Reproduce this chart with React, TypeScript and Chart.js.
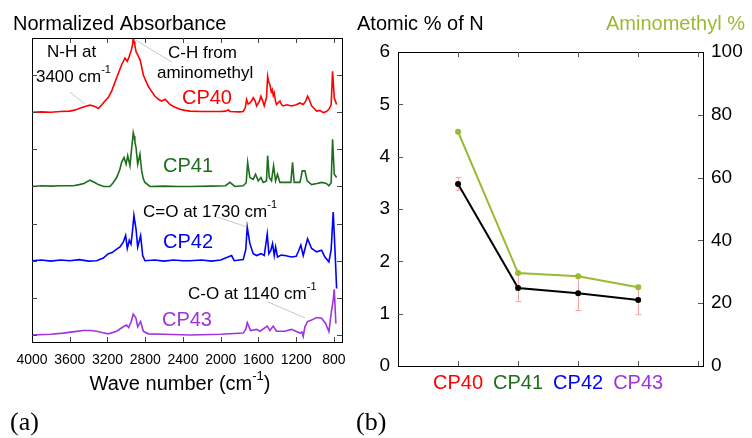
import React, { useEffect, useRef } from 'react';
import { Chart, registerables } from 'chart.js';

Chart.register(...registerables);

const SANS = '"Liberation Sans", Arial, Helvetica, sans-serif';
const SERIF = '"Liberation Serif", "DejaVu Serif", serif';

// ---------- Panel (a): FTIR spectra (offset, normalized) ----------
const cp40Wn = [4000, 3900, 3800, 3700, 3600, 3562, 3520, 3480, 3430, 3386, 3350, 3330, 3297, 3260, 3227, 3190, 3156, 3103, 3050, 3030, 3015, 2990, 2969, 2945, 2935, 2927, 2918, 2910, 2898, 2874, 2856, 2840, 2821, 2795, 2768, 2730, 2697, 2660, 2626, 2605, 2591, 2570, 2538, 2490, 2432, 2380, 2326, 2200, 2100, 2000, 1950, 1920, 1900, 1800, 1762, 1740, 1726, 1710, 1691, 1670, 1656, 1635, 1620, 1590, 1574, 1555, 1539, 1515, 1503, 1490, 1479, 1465, 1454, 1443, 1433, 1420, 1409, 1390, 1373, 1355, 1338, 1300, 1250, 1200, 1161, 1126, 1100, 1080, 1060, 1037, 1010, 984, 950, 914, 880, 854, 830, 815, 805, 797, 772];
const cp40Abs = [6.0, 6.01, 6.0, 6.02, 6.03, 6.05, 6.08, 6.12, 6.16, 6.19, 6.17, 6.15, 6.1, 6.2, 6.3, 6.4, 6.57, 6.93, 7.28, 7.38, 7.46, 7.37, 7.51, 7.7, 7.82, 8.0, 7.9, 7.8, 7.64, 7.51, 7.42, 7.25, 7.01, 6.85, 6.7, 6.55, 6.43, 6.35, 6.3, 6.33, 6.35, 6.3, 6.21, 6.14, 6.08, 6.05, 6.03, 6.02, 6.02, 6.02, 6.03, 6.06, 6.02, 6.01, 6.02, 6.12, 6.34, 6.22, 6.25, 6.32, 6.39, 6.3, 6.17, 6.3, 6.43, 6.3, 6.17, 6.4, 6.97, 6.8, 6.75, 6.55, 6.61, 6.45, 6.52, 6.3, 6.21, 6.26, 6.3, 6.2, 6.17, 6.2, 6.17, 6.2, 6.25, 6.21, 6.3, 6.43, 6.33, 6.17, 6.1, 6.03, 6.05, 5.99, 6.02, 6.08, 6.2, 7.1, 6.7, 6.39, 6.21];

const cp41Wn = [4000, 3900, 3800, 3700, 3562, 3500, 3450, 3386, 3330, 3297, 3240, 3174, 3140, 3103, 3070, 3050, 3025, 3003, 2986, 2962, 2945, 2927, 2918, 2910, 2898, 2880, 2856, 2838, 2820, 2803, 2750, 2600, 2450, 2326, 2100, 1950, 1903, 1850, 1762, 1730, 1715, 1691, 1656, 1631, 1603, 1574, 1550, 1515, 1503, 1486, 1462, 1440, 1419, 1398, 1373, 1320, 1257, 1239, 1222, 1161, 1145, 1137, 1108, 1084, 1037, 980, 931, 880, 854, 830, 815, 797, 772];
const cp41Abs = [4.0, 4.02, 4.01, 4.02, 4.02, 4.05, 4.08, 4.17, 4.1, 4.05, 4.0, 4.0, 4.1, 4.24, 4.45, 4.65, 4.78, 4.6, 4.83, 4.56, 5.0, 5.45, 5.35, 5.2, 5.05, 4.6, 4.87, 4.42, 4.2, 4.11, 4.0, 4.01, 4.0, 4.0, 4.01, 4.02, 4.11, 4.0, 4.02, 4.1, 4.65, 4.24, 4.19, 4.33, 4.15, 4.24, 4.11, 4.15, 4.83, 4.24, 4.15, 4.56, 4.15, 4.33, 4.11, 4.11, 4.11, 4.65, 4.11, 4.11, 4.3, 4.42, 4.42, 4.15, 4.05, 4.08, 4.11, 4.08, 4.02, 4.1, 5.27, 4.33, 4.24];

const cp42Wn = [4000, 3900, 3800, 3700, 3600, 3500, 3400, 3315, 3244, 3191, 3150, 3121, 3068, 3033, 3008, 2990, 2969, 2951, 2935, 2920, 2910, 2898, 2880, 2849, 2827, 2803, 2700, 2600, 2500, 2400, 2326, 2200, 2100, 2000, 1885, 1857, 1800, 1762, 1735, 1719, 1691, 1656, 1620, 1574, 1539, 1507, 1490, 1469, 1451, 1433, 1419, 1398, 1360, 1320, 1250, 1200, 1179, 1151, 1126, 1080, 1037, 984, 931, 896, 854, 830, 808, 790, 772];
const cp42Abs = [2.0, 2.02, 1.99, 2.02, 2.0, 2.03, 1.99, 2.0, 2.07, 2.19, 2.22, 2.28, 2.37, 2.5, 2.68, 2.33, 2.55, 2.45, 2.8, 3.22, 3.05, 2.86, 2.37, 2.68, 2.14, 2.0, 2.02, 1.99, 2.02, 2.0, 2.0, 2.02, 1.99, 2.02, 2.14, 2.0, 2.02, 2.03, 2.3, 2.9, 2.46, 2.19, 2.14, 2.19, 2.14, 2.72, 2.19, 2.28, 2.46, 2.14, 2.37, 2.1, 2.15, 2.14, 2.1, 2.12, 2.24, 2.42, 2.14, 2.59, 2.33, 2.24, 2.28, 2.1, 1.97, 2.3, 3.31, 2.33, 1.25];

const cp43Wn = [4000, 3800, 3668, 3550, 3456, 3380, 3315, 3250, 3191, 3103, 3033, 2997, 2976, 2950, 2927, 2910, 2898, 2880, 2849, 2821, 2768, 2600, 2326, 2000, 1762, 1735, 1719, 1684, 1620, 1585, 1507, 1479, 1444, 1409, 1320, 1250, 1161, 1140, 1126, 1108, 1080, 1037, 984, 931, 889, 854, 825, 808, 797, 780];
const cp43Abs = [0.0, 0.02, 0.05, 0.09, 0.12, 0.12, 0.1, 0.06, 0.03, 0.1, 0.22, 0.27, 0.2, 0.35, 0.56, 0.5, 0.45, 0.22, 0.36, 0.1, 0.03, 0.02, 0.0, 0.02, 0.05, 0.15, 0.33, 0.12, 0.15, 0.1, 0.24, 0.12, 0.24, 0.1, 0.1, 0.15, 0.05, 0.08, -0.04, 0.22, 0.36, 0.4, 0.47, 0.45, 0.31, 0.09, 0.67, 0.94, 1.23, 0.31];

const spectrumNames = ['CP40', 'CP41', 'CP42', 'CP43'];
const sampleColors = ['#ff0000', '#1e6e1e', '#0000ff', '#a034dc'];
const waveTicks = [4000, 3600, 3200, 2800, 2400, 2000, 1600, 1200, 800];
const offsetTicks = [0, 1, 2, 3, 4, 5, 6, 7];

// ---------- Panel (b): composition ----------
const samples = ['CP40', 'CP41', 'CP42', 'CP43'];
const samplePos = [1, 2, 3, 4];
const atomicN = [3.48, 1.49, 1.39, 1.26];
const atomicNErr = [0.12, 0.26, 0.33, 0.28];
const aminomethylPct = [74.6, 29.6, 28.6, 25.1];
const leftTicks = [0, 1, 2, 3, 4, 5, 6];
const rightTicks = [0, 20, 40, 60, 80, 100];
const categoryTicks = [1, 2, 3, 4, 5];

const W = 752;
const H = 438;

function supText(ctx: CanvasRenderingContext2D, x: number, y: number, parts: [string, boolean][], size: number, align: 'left' | 'center') {
  const supSize = Math.round(size * 0.65);
  let total = 0;
  for (const [t, sup] of parts) {
    ctx.font = `${sup ? supSize : size}px ${SANS}`;
    total += ctx.measureText(t).width;
  }
  let cx = align === 'center' ? x - total / 2 : x;
  ctx.textAlign = 'left';
  ctx.textBaseline = 'middle';
  for (const [t, sup] of parts) {
    ctx.font = `${sup ? supSize : size}px ${SANS}`;
    ctx.fillText(t, cx, sup ? y - size * 0.4 : y);
    cx += ctx.measureText(t).width;
  }
}

const spectraPlugin = {
  id: 'spectraDecor',
  afterDraw(chart: any) {
    const ctx: CanvasRenderingContext2D = chart.ctx;
    const { left, right, top, bottom } = chart.chartArea;
    const xs = chart.scales.x;
    const ys = chart.scales.y;
    ctx.save();
    ctx.strokeStyle = '#b0b0b0';
    ctx.lineWidth = 0.7;
    const leaders = [
      [3597, 6.54, 3439, 6.22],
      [2898, 7.94, 2517, 7.35],
      [2040, 3.18, 1722, 2.91],
      [1500, 0.89, 1108, 0.46],
    ];
    for (const [x1, y1, x2, y2] of leaders) {
      ctx.beginPath();
      ctx.moveTo(xs.getPixelForValue(x1), ys.getPixelForValue(y1));
      ctx.lineTo(xs.getPixelForValue(x2), ys.getPixelForValue(y2));
      ctx.stroke();
    }
    ctx.strokeStyle = '#000';
    ctx.lineWidth = 1;
    ctx.strokeRect(Math.round(left) + 0.5, Math.round(top) + 0.5, Math.round(right - left), Math.round(bottom - top));
    ctx.strokeStyle = '#444';
    ctx.beginPath();
    for (const wn of waveTicks) {
      const px = Math.round(xs.getPixelForValue(wn)) + 0.5;
      if (px - left < 2) continue;
      ctx.moveTo(px, bottom);
      ctx.lineTo(px, bottom - 5);
      ctx.moveTo(px, top);
      ctx.lineTo(px, top + 5);
    }
    for (const v of offsetTicks) {
      const py = Math.round(ys.getPixelForValue(v)) + 0.5;
      ctx.moveTo(left, py);
      ctx.lineTo(left + 5, py);
      ctx.moveTo(right, py);
      ctx.lineTo(right - 5, py);
    }
    ctx.stroke();
    ctx.fillStyle = '#000';
    ctx.font = `14px ${SANS}`;
    ctx.textAlign = 'center';
    ctx.textBaseline = 'middle';
    for (const wn of waveTicks) {
      ctx.fillText(String(wn), xs.getPixelForValue(wn), bottom + 18);
    }
    supText(ctx, 180, bottom + 42, [['Wave number (cm', false], ['-1', true], [')', false]], 20, 'center');
    ctx.font = `20px ${SANS}`;
    ctx.textAlign = 'left';
    ctx.fillText('Normalized Absorbance', 13, 24);
    ctx.fillStyle = '#000';
    ctx.font = `17px ${SANS}`;
    ctx.fillText('N-H at', xs.getPixelForValue(3841), ys.getPixelForValue(7.62));
    supText(ctx, xs.getPixelForValue(3958), ys.getPixelForValue(6.95), [['3400 cm', false], ['-1', true]], 17, 'left');
    ctx.font = `17px ${SANS}`;
    ctx.fillText('C-H from', xs.getPixelForValue(2559), ys.getPixelForValue(7.59));
    ctx.fillText('aminomethyl', xs.getPixelForValue(2676), ys.getPixelForValue(7.05));
    supText(ctx, xs.getPixelForValue(2824), ys.getPixelForValue(3.31), [['C=O at 1730 cm', false], ['-1', true]], 17, 'left');
    supText(ctx, xs.getPixelForValue(2347), ys.getPixelForValue(1.1), [['C-O at 1140 cm', false], ['-1', true]], 17, 'left');
    const namePos = [[2411, 6.38], [2612, 4.55], [2612, 2.48], [2623, 0.4]];
    ctx.font = `20px ${SANS}`;
    ctx.textAlign = 'left';
    ctx.textBaseline = 'middle';
    spectrumNames.forEach((n, i) => {
      ctx.fillStyle = sampleColors[i];
      ctx.fillText(n, xs.getPixelForValue(namePos[i][0]), ys.getPixelForValue(namePos[i][1]));
    });
    ctx.fillStyle = '#000';
    ctx.font = `26px ${SERIF}`;
    ctx.fillText('(a)', 10, 423);
    ctx.restore();
  },
};

const compPlugin = {
  id: 'compDecor',
  beforeDatasetsDraw(chart: any) {
    const ctx: CanvasRenderingContext2D = chart.ctx;
    const xs = chart.scales.x;
    const ys = chart.scales.y;
    ctx.save();
    ctx.strokeStyle = '#f4a4a4';
    ctx.lineWidth = 1;
    ctx.beginPath();
    samplePos.forEach((p, i) => {
      const px = Math.round(xs.getPixelForValue(p)) + 0.5;
      const y1 = ys.getPixelForValue(atomicN[i] + atomicNErr[i]);
      const y2 = ys.getPixelForValue(atomicN[i] - atomicNErr[i]);
      ctx.moveTo(px, y1);
      ctx.lineTo(px, y2);
      ctx.moveTo(px - 3, y1);
      ctx.lineTo(px + 3, y1);
      ctx.moveTo(px - 3, y2);
      ctx.lineTo(px + 3, y2);
    });
    ctx.stroke();
    ctx.restore();
  },
  afterDraw(chart: any) {
    const ctx: CanvasRenderingContext2D = chart.ctx;
    const { left, right, top, bottom } = chart.chartArea;
    const xs = chart.scales.x;
    const ys = chart.scales.y;
    const y1s = chart.scales.y1;
    ctx.save();
    ctx.strokeStyle = '#000';
    ctx.lineWidth = 1;
    ctx.strokeRect(Math.round(left) + 0.5, Math.round(top) + 0.5, Math.round(right - left), Math.round(bottom - top));
    ctx.strokeStyle = '#555';
    ctx.beginPath();
    for (const c of categoryTicks) {
      const px = Math.round(xs.getPixelForValue(c)) + 0.5;
      ctx.moveTo(px, top);
      ctx.lineTo(px, top + 5);
      ctx.moveTo(px, bottom);
      ctx.lineTo(px, bottom - 5);
    }
    for (const v of leftTicks) {
      if (v === 0 || v === 6) continue;
      const py = Math.round(ys.getPixelForValue(v)) + 0.5;
      ctx.moveTo(left, py);
      ctx.lineTo(left + 5, py);
    }
    for (const v of rightTicks) {
      if (v === 0 || v === 100) continue;
      const py = Math.round(y1s.getPixelForValue(v)) + 0.5;
      ctx.moveTo(right, py);
      ctx.lineTo(right - 5, py);
    }
    ctx.stroke();
    ctx.fillStyle = '#000';
    ctx.font = `19px ${SANS}`;
    ctx.textBaseline = 'middle';
    ctx.textAlign = 'right';
    for (const v of leftTicks) ctx.fillText(String(v), left - 8, ys.getPixelForValue(v));
    ctx.textAlign = 'left';
    for (const v of rightTicks) ctx.fillText(String(v), right + 8, y1s.getPixelForValue(v));
    ctx.font = `20px ${SANS}`;
    ctx.fillText('Atomic % of N', 357, 24);
    ctx.fillStyle = '#99bb33';
    ctx.fillText('Aminomethyl %', 606, 24);
    ctx.textAlign = 'center';
    samples.forEach((s, i) => {
      ctx.fillStyle = sampleColors[i];
      ctx.fillText(s, xs.getPixelForValue(samplePos[i]), bottom + 17);
    });
    ctx.fillStyle = '#000';
    ctx.textAlign = 'left';
    ctx.font = `26px ${SERIF}`;
    ctx.fillText('(b)', 356, 423);
    ctx.restore();
  },
};

export default function App() {
  const refA = useRef<HTMLCanvasElement>(null);
  const refB = useRef<HTMLCanvasElement>(null);

  useEffect(() => {
    const spectra = [
      [cp40Wn, cp40Abs],
      [cp41Wn, cp41Abs],
      [cp42Wn, cp42Abs],
      [cp43Wn, cp43Abs],
    ];
    const chartA = new Chart(refA.current!, {
      type: 'line',
      data: {
        datasets: spectra.map(([wn, ab], i) => ({
          label: spectrumNames[i],
          data: wn.map((x, j) => ({ x, y: ab[j] })),
          borderColor: sampleColors[i],
          borderWidth: 1.6,
          pointRadius: 0,
          tension: 0,
          fill: false,
        })),
      },
      options: {
        responsive: false,
        animation: false,
        layout: { padding: { left: 32, right: W - 342, top: 38, bottom: H - 342 } },
        scales: {
          x: { type: 'linear', min: 715, max: 4000, reverse: true, display: false },
          y: { type: 'linear', min: -0.19, max: 8.0, display: false },
        },
        plugins: { legend: { display: false }, tooltip: { enabled: false } },
      },
      plugins: [spectraPlugin],
    } as any);

    const chartB = new Chart(refB.current!, {
      type: 'line',
      data: {
        datasets: [
          {
            label: 'Aminomethyl %',
            data: samplePos.map((x, i) => ({ x, y: aminomethylPct[i] })),
            yAxisID: 'y1',
            borderColor: '#99bb33',
            backgroundColor: '#99bb33',
            borderWidth: 2,
            pointRadius: 3,
            pointBorderWidth: 0,
            tension: 0,
          },
          {
            label: 'Atomic % of N',
            data: samplePos.map((x, i) => ({ x, y: atomicN[i] })),
            yAxisID: 'y',
            borderColor: '#000000',
            backgroundColor: '#000000',
            borderWidth: 2,
            pointRadius: 3,
            pointBorderWidth: 0,
            tension: 0,
          },
        ],
      },
      options: {
        responsive: false,
        animation: false,
        layout: { padding: { left: 398, right: W - 703, top: 52, bottom: H - 366 } },
        scales: {
          x: { type: 'linear', min: 0, max: 5.08, display: false },
          y: { type: 'linear', min: 0, max: 6, display: false },
          y1: { type: 'linear', min: 0, max: 100, display: false, position: 'right' },
        },
        plugins: { legend: { display: false }, tooltip: { enabled: false } },
      },
      plugins: [compPlugin],
    } as any);

    return () => {
      chartA.destroy();
      chartB.destroy();
    };
  }, []);

  const cs: React.CSSProperties = { position: 'absolute', left: 0, top: 0, width: W, height: H };
  return (
    <div style={{ position: 'fixed', left: 0, top: 0, width: W, height: H, background: '#fff' }}>
      <canvas ref={refA} width={W} height={H} style={cs} />
      <canvas ref={refB} width={W} height={H} style={cs} />
    </div>
  );
}
